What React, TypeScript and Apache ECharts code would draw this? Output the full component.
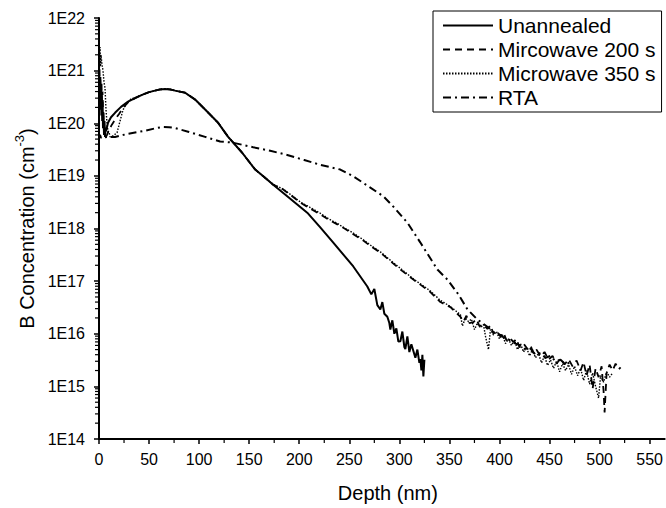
import React, { useEffect, useRef } from "react";
import * as echarts from "echarts";

const FONT = "'Liberation Sans', Arial, sans-serif";

const seriesNames = ["Unannealed", "Mircowave 200 s", "Microwave 350 s", "RTA"];

const xTicks = [0, 50, 100, 150, 200, 250, 300, 350, 400, 450, 500, 550];
const xMinorTicks = [25, 75, 125, 175, 225, 275, 325, 375, 425, 475, 525];
const yDecades = [14, 15, 16, 17, 18, 19, 20, 21, 22];
const yMinorMultipliers = [2, 3, 4, 5, 6, 7, 8, 9];

// depth (nm), B concentration (cm^-3)
const unannealed: [number, number][] = [
  [0, 3.2e20], [0.4, 7e20], [0.8, 2.2e20], [1.2, 5.5e20], [1.6, 1.8e20], [2, 4.5e20],
  [2.4, 1.4e20], [2.8, 3.5e20], [3.2, 1.1e20], [3.6, 2.6e20], [4, 8e19], [4.5, 1.6e20],
  [5, 6e19], [5.5, 1.1e20], [6, 5.5e19], [6.5, 8e19], [7, 7e19], [8, 8.5e19],
  [9, 1.02e20], [12, 1.3e20], [16, 1.58e20], [22, 2.05e20], [29, 2.57e20], [36, 3.0e20],
  [43, 3.47e20], [50, 3.9e20], [56, 4.17e20], [61, 4.4e20], [66, 4.47e20], [71, 4.4e20],
  [76, 4.17e20], [86, 3.8e20], [96, 2.82e20], [106, 1.82e20], [119, 1.02e20], [129, 5.5e19],
  [143, 2.75e19], [156, 1.32e19], [165, 9.5e18], [174, 6.8e18], [188, 4.1e18], [208, 2.0e18],
  [221, 1.05e18], [234, 5.4e17], [254, 1.9e17], [268, 7.9e16], [272, 5.6e16], [275, 7.1e16],
  [278, 3.5e16], [281, 2.9e16], [283, 4.0e16], [285, 2.4e16], [288, 2.1e16], [290, 1.6e16],
  [291, 1.2e16], [293, 1.8e16], [295, 1.0e16], [297, 1.26e16], [299, 7.1e15], [301, 7.2e15],
  [303, 1.1e16], [305, 5.6e15], [306, 5.1e15], [308, 8.9e15], [310, 4.5e15], [312, 6.3e15],
  [314, 4.7e15], [316, 3.5e15], [318, 5.0e15], [320, 2.8e15], [321, 3.3e15], [322, 2.0e15],
  [323, 4.0e15], [324, 1.55e15], [325, 3.2e15],
];

const mw200: [number, number][] = [
  [0, 4e20], [0.5, 1.1e21], [1, 3.5e20], [1.5, 8e20], [2, 3e20], [2.5, 6e20], [3, 2e20],
  [3.5, 4e20], [4, 1.5e20], [5, 9e19], [6, 7e19], [7, 5.5e19], [8, 6e19], [10, 7.5e19],
  [13, 9.5e19], [16, 1.17e20], [20, 1.5e20], [24, 1.95e20], [29, 2.5e20], [36, 3.0e20],
  [43, 3.47e20], [50, 3.9e20], [56, 4.17e20], [61, 4.4e20], [66, 4.47e20], [71, 4.4e20],
  [76, 4.17e20], [86, 3.8e20], [96, 2.82e20], [106, 1.82e20], [119, 1.02e20], [129, 5.5e19],
  [143, 2.75e19], [156, 1.32e19], [165, 9.5e18], [174, 6.8e18], [184, 5.5e18], [193, 4.1e18],
  [201, 3.1e18], [211, 2.4e18], [221, 1.86e18], [230, 1.45e18], [238, 1.2e18], [246, 9.8e17],
  [254, 7.8e17], [264, 5.9e17], [272, 4.5e17], [281, 3.5e17], [291, 2.4e17], [301, 1.66e17],
  [314, 1.07e17], [322, 8.3e16], [331, 6.2e16], [341, 4.0e16], [351, 3.2e16], [361, 2.1e16],
  [364, 1.7e16], [367, 2.2e16], [370, 1.6e16], [374, 1.66e16], [377, 1.9e16], [380, 1.4e16],
  [384, 1.5e16], [388, 1.23e16], [391, 1.45e16], [394, 1.0e16], [397, 1.15e16], [401, 8.9e15],
  [404, 1.05e16], [407, 7.5e15], [410, 8.5e15], [414, 6.9e15], [417, 8e15], [420, 5.5e15],
  [424, 6.5e15], [428, 5.1e15], [431, 6.0e15], [434, 4.2e15], [437, 5.0e15], [441, 3.7e15],
  [445, 4.5e15], [449, 3.2e15], [453, 3.8e15], [457, 2.7e15], [461, 3.4e15], [465, 2.6e15],
  [469, 3.3e15], [473, 2.4e15], [477, 3.1e15], [481, 2.0e15], [484, 2.9e15], [487, 1.6e15],
  [490, 2.6e15], [493, 9e14], [496, 2.2e15], [499, 1.5e15], [502, 2.4e15], [504, 8e14],
  [505, 3.2e14], [507, 1.8e15], [510, 2.6e15], [513, 2.0e15], [516, 2.7e15], [519, 2.1e15],
  [521, 2.3e15],
];

const mw350: [number, number][] = [
  [0, 5e20], [0.5, 1.5e21], [1, 2.8e21], [1.5, 1.2e21], [2, 2.0e21], [3, 1.3e21], [4, 1.0e21],
  [5, 6e20], [6, 4.7e20], [7, 1.8e20], [8, 1.0e20], [9, 7e19], [10, 6.9e19], [11, 5.5e19],
  [13, 5.6e19], [18, 6.6e19], [21, 1.1e20], [24, 1.8e20], [28, 2.45e20], [32, 2.9e20],
  [36, 3.05e20], [43, 3.47e20], [50, 3.9e20], [56, 4.17e20], [61, 4.4e20], [66, 4.47e20],
  [71, 4.4e20], [76, 4.17e20], [86, 3.8e20], [96, 2.82e20], [106, 1.82e20], [119, 1.02e20],
  [129, 5.5e19], [143, 2.75e19], [156, 1.32e19], [165, 9.5e18], [174, 6.9e18], [184, 5.6e18],
  [193, 4.2e18], [201, 3.2e18], [211, 2.5e18], [221, 1.95e18], [230, 1.5e18], [238, 1.25e18],
  [246, 1.0e18], [254, 8.2e17], [264, 6.1e17], [272, 4.7e17], [281, 3.6e17], [291, 2.5e17],
  [301, 1.75e17], [314, 1.1e17], [322, 8.6e16], [331, 6.5e16], [341, 4.3e16], [351, 3.3e16],
  [361, 2.3e16], [363, 1.4e16], [366, 2.0e16], [369, 1.7e16], [372, 1.9e16], [375, 1.2e16],
  [378, 1.6e16], [381, 1.3e16], [384, 1.5e16], [386, 9e15], [389, 5e15], [391, 1.2e16],
  [394, 9.5e15], [397, 1.1e16], [400, 8e15], [403, 9.5e15], [406, 6.5e15], [409, 8e15],
  [412, 6e15], [415, 7.5e15], [418, 5e15], [421, 6.5e15], [424, 4.5e15], [427, 5.5e15],
  [430, 3.8e15], [433, 5e15], [436, 3.5e15], [439, 4.2e15], [442, 2.8e15], [445, 3.8e15],
  [448, 2.5e15], [451, 3.2e15], [454, 2.2e15], [457, 3.0e15], [460, 1.9e15], [463, 2.7e15],
  [466, 2.0e15], [469, 2.6e15], [472, 1.7e15], [475, 2.4e15], [478, 1.6e15], [481, 2.2e15],
  [484, 1.3e15], [487, 2.0e15], [490, 1.1e15], [493, 1.8e15], [496, 1.0e15], [499, 6e14],
  [501, 1.6e15], [504, 1.2e15], [507, 1.9e15], [510, 1.5e15], [513, 1.8e15],
];

const rta: [number, number][] = [
  [0, 5.0e19], [1, 6.0e19], [2, 5.3e19], [3, 5.6e19], [5, 5.4e19], [8, 5.5e19], [16, 5.5e19],
  [29, 6.3e19], [46, 7.2e19], [56, 8.0e19], [63, 8.5e19], [70, 8.4e19], [76, 8.1e19],
  [89, 6.9e19], [106, 5.5e19], [121, 4.5e19], [133, 4.3e19], [154, 3.5e19], [171, 3.0e19],
  [188, 2.5e19], [205, 2.0e19], [221, 1.62e19], [241, 1.32e19], [254, 9.8e18], [271, 6.0e18],
  [284, 4.1e18], [294, 2.6e18], [308, 1.29e18], [321, 5.4e17], [338, 1.66e17], [348, 1.07e17],
  [359, 5.6e16], [368, 2.9e16], [378, 1.86e16], [391, 1.23e16], [396, 1.0e16], [401, 9.5e15],
  [406, 8e15], [411, 7.5e15], [416, 6.5e15], [421, 6e15], [426, 5e15], [431, 5.2e15],
  [436, 4e15], [441, 4.3e15], [446, 3.5e15], [451, 3.8e15], [456, 3.0e15], [461, 3.2e15],
  [466, 2.6e15], [471, 2.9e15],
];

export default function App() {
  const ref = useRef<HTMLDivElement>(null);

  useEffect(() => {
    if (!ref.current) return;
    const chart = echarts.init(ref.current, undefined, { renderer: "svg" });

    const tickData: number[][] = [];
    for (let i = 0; i < yDecades.length - 1; i++) {
      for (const k of yMinorMultipliers) tickData.push([0, k * Math.pow(10, yDecades[i]), 0]);
    }
    for (const x of xMinorTicks) tickData.push([x, Math.pow(10, yDecades[0]), 1]);

    const lineSeries = (name: string, data: [number, number][], lineStyle: any) => ({
      name,
      type: "line",
      data,
      symbol: "none",
      showSymbol: false,
      smooth: false,
      lineStyle: { color: "#000", ...lineStyle },
      itemStyle: { color: "#000" },
      z: 3,
    });

    chart.setOption({
      animation: false,
      backgroundColor: "#fff",
      textStyle: { fontFamily: FONT, color: "#000" },
      grid: { left: 99, right: 1, top: 18, bottom: 68, containLabel: false },
      legend: {
        data: seriesNames,
        orient: "vertical",
        left: 433,
        top: 11,
        padding: [4, 6, 4, 9],
        itemGap: 3,
        itemWidth: 50,
        itemHeight: 14,
        borderColor: "#000",
        borderWidth: 1,
        backgroundColor: "#fff",
        itemStyle: { color: "rgba(0,0,0,0)", borderWidth: 0, opacity: 0 },
        textStyle: { fontFamily: FONT, fontSize: 21, color: "#000" },
      },
      xAxis: {
        type: "value",
        min: 0,
        max: 565,
        name: "Depth (nm)",
        nameLocation: "middle",
        nameGap: 44,
        nameTextStyle: { fontFamily: FONT, fontSize: 20, color: "#000", padding: [0, 0, 0, 12] },
        axisLine: { show: true, onZero: false, lineStyle: { color: "#000", width: 2 } },
        axisTick: { show: true, inside: false, length: 5, customValues: xTicks, lineStyle: { color: "#000", width: 1.5 } },
        axisLabel: { customValues: xTicks, margin: 12, fontSize: 16, color: "#000", fontFamily: FONT },
        splitLine: { show: false },
        minorTick: { show: false },
      },
      yAxis: {
        type: "log",
        logBase: 10,
        min: Math.pow(10, yDecades[0]),
        max: Math.pow(10, yDecades[yDecades.length - 1]),
        splitNumber: 8,
        name: "{a|B Concentration (cm}{sup|-3}{a|)}",
        nameLocation: "middle",
        nameRotate: 90,
        nameGap: 62,
        nameTextStyle: {
          fontFamily: FONT,
          color: "#000",
          rich: {
            a: { fontFamily: FONT, fontSize: 20, color: "#000", lineHeight: 24, verticalAlign: "bottom" },
            sup: { fontFamily: FONT, fontSize: 13, color: "#000", lineHeight: 24, verticalAlign: "top" },
          },
        },
        axisLine: { show: true, lineStyle: { color: "#000", width: 2 } },
        axisTick: { show: true, inside: false, length: 5, lineStyle: { color: "#000", width: 1.5 } },
        axisLabel: {
          margin: 14,
          fontSize: 16,
          color: "#000",
          fontFamily: FONT,
          formatter: (v: number) => "1E" + Math.round(Math.log10(v)),
        },
        splitLine: { show: false },
        minorTick: { show: false },
      },
      series: [
        lineSeries(seriesNames[0], unannealed, { width: 2, type: "solid" }),
        lineSeries(seriesNames[1], mw200, { width: 1.8, type: [7, 5] }),
        lineSeries(seriesNames[2], mw350, { width: 1.4, type: [1.5, 1.5] }),
        lineSeries(seriesNames[3], rta, { width: 2, type: [8, 4, 2, 4] }),
        {
          type: "custom",
          name: "minorTicks",
          silent: true,
          clip: false,
          data: tickData,
          z: 1,
          renderItem: (params: any, api: any) => {
            const kind = api.value(2);
            const p = api.coord([api.value(0), api.value(1)]);
            if (kind === 0) {
              return { type: "line", shape: { x1: p[0] - 4, y1: p[1], x2: p[0], y2: p[1] }, style: { stroke: "#000", lineWidth: 1.2 } };
            }
            return { type: "line", shape: { x1: p[0], y1: p[1], x2: p[0], y2: p[1] + 4 }, style: { stroke: "#000", lineWidth: 1.2 } };
          },
        },
      ],
    });

    return () => chart.dispose();
  }, []);

  return (
    <div
      ref={ref}
      style={{ position: "absolute", left: 0, top: 0, width: 666, height: 508, background: "#fff" }}
    />
  );
}
